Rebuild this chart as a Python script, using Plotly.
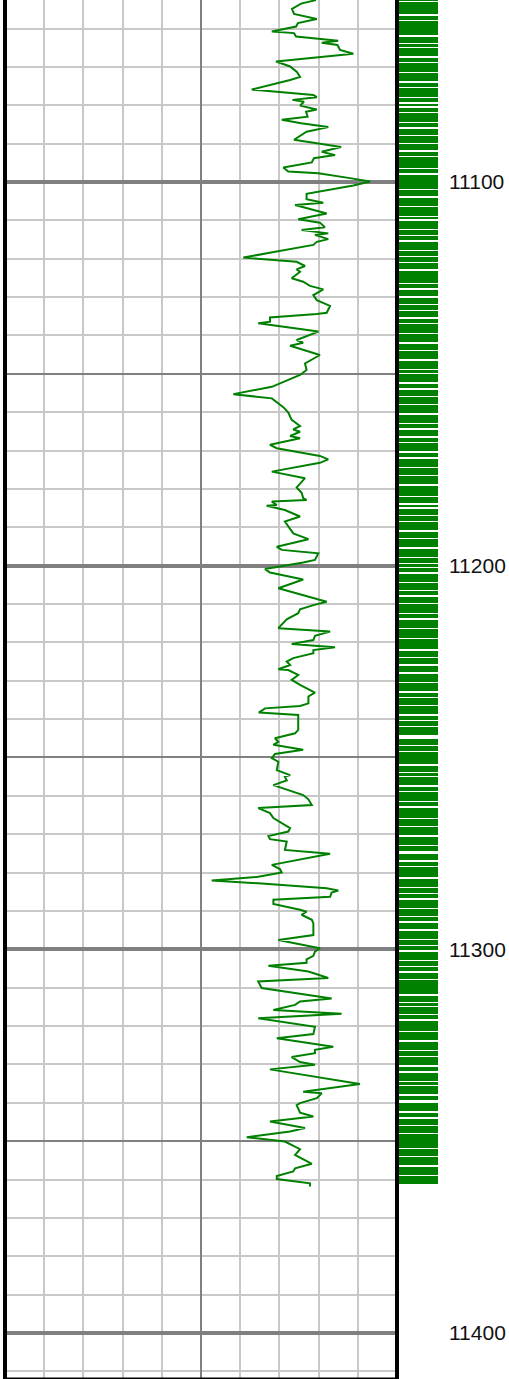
import plotly.graph_objects as go

# Gamma-ray curve vertices: measured depth (ft) and GR (API)
DEPTH = [
    11052.6, 11053.5, 11054.9, 11056.2, 11057.5, 11058.6, 11059.5, 11060.8, 11061.2, 11062.1,
    11063.2, 11063.7, 11064.3, 11065.6, 11066.6, 11068.6, 11069.9, 11071.3, 11072.6, 11073.4,
    11075.9, 11077.3, 11077.9, 11078.6, 11079.1, 11080.1, 11081.1, 11081.7, 11083.0, 11083.8,
    11084.7, 11085.7, 11086.9, 11089.0, 11090.9, 11092.1, 11093.0, 11093.8, 11094.9, 11096.2,
    11097.3, 11097.7, 11099.0, 11099.9, 11100.9, 11103.1, 11104.5, 11105.4, 11106.0, 11108.2,
    11109.7, 11110.6, 11111.8, 11112.5, 11113.4, 11113.8, 11114.9, 11115.6, 11116.4, 11119.7,
    11120.8, 11121.9, 11122.8, 11123.4, 11125.1, 11126.0, 11127.1, 11128.0, 11129.5, 11130.8,
    11132.3, 11134.1, 11134.4, 11135.3, 11136.4, 11136.8, 11139.0, 11141.2, 11141.9, 11142.7,
    11145.1, 11147.3, 11149.0, 11150.3, 11153.4, 11155.3, 11156.4, 11157.5, 11158.7, 11160.1,
    11162.0, 11163.6, 11164.5, 11165.1, 11166.2, 11166.8, 11168.5, 11169.4, 11171.4, 11172.3,
    11173.2, 11175.5, 11177.2, 11179.6, 11181.0, 11182.4, 11182.9, 11183.3, 11184.2, 11184.4,
    11185.5, 11187.2, 11188.5, 11191.6, 11193.1, 11195.1, 11195.9, 11196.8, 11198.5, 11199.2,
    11200.9, 11201.8, 11203.6, 11205.9, 11209.4, 11210.3, 11211.4, 11212.4, 11214.0, 11216.3,
    11217.2, 11218.3, 11219.4, 11220.4, 11221.3, 11222.0, 11222.8, 11224.1, 11225.0, 11225.9,
    11227.0, 11227.2, 11228.5, 11229.8, 11231.1, 11233.1, 11234.1, 11235.9, 11236.6, 11237.2,
    11238.3, 11238.9, 11242.8, 11243.7, 11245.0, 11245.9, 11246.7, 11248.0, 11249.1, 11250.2,
    11251.1, 11253.3, 11254.6, 11255.0, 11256.0, 11257.2, 11259.8, 11260.9, 11262.4, 11263.2,
    11264.5, 11265.8, 11267.0, 11268.4, 11269.3, 11270.5, 11271.3, 11271.9, 11274.1, 11275.1,
    11278.0, 11279.1, 11280.0, 11281.1, 11282.1, 11282.8, 11284.1, 11284.7, 11285.2, 11286.3,
    11287.1, 11288.2, 11289.7, 11290.2, 11291.0, 11292.3, 11293.2, 11296.3, 11297.6, 11299.7,
    11300.6, 11301.7, 11302.6, 11303.5, 11304.3, 11305.8, 11307.5, 11308.4, 11310.1, 11312.8,
    11313.6, 11314.5, 11315.8, 11316.8, 11318.0, 11320.2, 11322.1, 11323.2, 11325.4, 11326.2,
    11327.1, 11328.1, 11329.4, 11330.1, 11331.3, 11335.1, 11337.1, 11337.5, 11338.8, 11340.1,
    11340.6, 11342.6, 11343.6, 11344.9, 11346.6, 11347.5, 11349.0, 11350.1, 11352.1, 11353.6,
    11355.9, 11357.1, 11357.9, 11359.1, 11359.9, 11361.0, 11361.8,
]
GR = [
    119.0, 113.3, 109.8, 110.6, 119.3, 112.1, 111.4, 102.1, 110.6, 111.4,
    127.5, 121.2, 127.2, 128.2, 133.3, 103.7, 109.1, 111.7, 112.9, 109.1,
    94.4, 118.0, 119.3, 110.0, 114.4, 112.9, 119.3, 115.2, 115.8, 105.9,
    113.3, 123.7, 115.4, 110.6, 128.6, 121.2, 126.3, 118.2, 117.4, 106.5,
    108.4, 119.9, 132.0, 139.7, 133.3, 115.4, 115.4, 121.8, 111.0, 123.1,
    112.2, 120.5, 122.4, 113.5, 123.7, 118.6, 123.7, 119.3, 118.0, 91.2,
    111.6, 114.8, 111.6, 112.9, 109.7, 114.1, 116.7, 121.8, 118.0, 119.3,
    124.4, 123.1, 119.3, 101.4, 101.4, 96.9, 119.9, 111.6, 114.1, 109.1,
    120.5, 114.8, 115.4, 112.9, 102.1, 87.4, 102.1, 104.0, 106.5, 108.4,
    109.7, 112.9, 110.3, 112.9, 109.1, 112.9, 101.4, 104.0, 120.5, 123.7,
    120.5, 102.1, 114.8, 111.6, 113.5, 114.1, 115.4, 102.1, 104.0, 100.1,
    107.1, 112.9, 107.1, 110.3, 116.1, 104.0, 105.9, 119.9, 118.6, 114.1,
    99.5, 101.4, 114.1, 104.6, 123.1, 118.0, 112.9, 112.2, 107.8, 104.6,
    124.4, 118.6, 118.0, 109.7, 126.3, 118.0, 118.0, 110.3, 107.8, 109.1,
    104.6, 108.4, 112.2, 109.7, 112.9, 118.6, 116.1, 116.1, 112.9, 99.5,
    97.1, 112.2, 112.2, 111.0, 103.3, 104.6, 102.7, 114.1, 103.3, 102.1,
    104.6, 104.0, 109.1, 107.1, 107.8, 102.7, 114.1, 116.1, 117.4, 96.9,
    101.4, 102.7, 105.9, 109.1, 108.4, 100.8, 101.4, 107.8, 107.1, 124.4,
    102.1, 105.2, 105.9, 96.9, 79.1, 96.9, 123.1, 127.5, 125.0, 124.4,
    102.7, 102.7, 112.9, 115.4, 113.5, 117.4, 118.0, 118.0, 104.6, 120.5,
    118.6, 118.0, 115.4, 115.4, 100.8, 116.1, 123.7, 96.9, 98.2, 125.0,
    112.9, 111.0, 102.7, 128.8, 96.9, 118.6, 118.0, 104.0, 125.6, 118.6,
    118.6, 109.7, 112.9, 118.6, 101.4, 135.8, 114.1, 121.2, 119.3, 112.9,
    111.6, 112.9, 118.0, 101.4, 114.8, 109.1, 92.5, 107.1, 112.9, 111.0,
    117.4, 111.0, 110.3, 104.0, 104.0, 116.7, 116.7,
]

# Flag track: one value per half-foot sample from FLAG_TOP down (1 = flagged)
FLAG_TOP = 11050.0
FLAG_STEP = 0.5
FLAG_CODE = (
    "1101110111 1110110111 1111011101 0111101101 1110111101 "
    "1011110110 1011011110 1101110111 0111011011 1110110111 "
    "1111011101 1110111101 0111101101 1011110110 1101110111 "
    "1110110111 0111011011 1011011110 1111011101 1110111101 "
    "0111101101 1101110111 1011110110 1110110111 1011011110 "
    "1110111101 1111011101 0111011011 1101110111 1011110110 "
    "1011011110 1110110111 0111101101 1110111101 1111011101 "
    "1101110111 1011110110 1110111101 1011011110 0111011011 "
    "1111011101 0111101101 1110110111 1101110111 1011110110 "
    "0111011011 1110111101 1011011110 1110110111 0111101101 "
    "1011110110 1101110111 1111011101 0111011011 1110111101 "
    "1110110111 1011011110 1011110110 0111101101 1101110111 "
    "1111011101 1110111101 111"
)
FLAG_VALUE = [int(c) for c in FLAG_CODE if c in "01"]
FLAG_DEPTH = [FLAG_TOP + i * FLAG_STEP for i in range(len(FLAG_VALUE))]

DEPTH_TICKS = [11100, 11200, 11300, 11400]
HALF_TICKS = [11150, 11250, 11350]
DEPTH_RANGE = [11412.0, 11052.57]   # top of track at the upper edge
GR_RANGE = [0, 150]

W, H = 509, 1379
TRACK_L, TRACK_R, FLAG_R = 5, 397, 438

GREEN = "#008000"
LIGHT = "#c8c8c8"
DARK = "#808080"

fig = go.Figure()
fig.add_trace(go.Scatter(
    x=GR, y=DEPTH, mode="lines",
    line=dict(color=GREEN, width=2),
    xaxis="x", yaxis="y", showlegend=False, hoverinfo="skip",
))
# empty trace so the 50-ft grid axis gets drawn on the log track
fig.add_trace(go.Scatter(
    x=[], y=[], mode="lines", xaxis="x", yaxis="y3",
    showlegend=False, hoverinfo="skip",
))
fig.add_trace(go.Bar(
    x=FLAG_VALUE, y=FLAG_DEPTH, orientation="h",
    marker=dict(color=GREEN, line=dict(width=0)),
    xaxis="x2", yaxis="y2", showlegend=False, hoverinfo="skip",
))

fig.update_layout(
    width=W, height=H,
    margin=dict(l=0, r=0, t=0, b=0),
    paper_bgcolor="white", plot_bgcolor="white",
    bargap=0,
    xaxis=dict(
        domain=[TRACK_L / W, TRACK_R / W], range=GR_RANGE, anchor="y",
        tick0=0, dtick=75, showgrid=True, gridcolor=DARK, gridwidth=2,
        minor=dict(tick0=0, dtick=15, showgrid=True, gridcolor=LIGHT, gridwidth=2),
        showticklabels=False, ticks="", zeroline=False, showline=False,
    ),
    yaxis=dict(
        domain=[0, 1], range=DEPTH_RANGE, anchor="x",
        tickmode="array", tickvals=DEPTH_TICKS,
        showgrid=True, gridcolor=DARK, gridwidth=4,
        minor=dict(tick0=11000, dtick=10, showgrid=True, gridcolor=LIGHT, gridwidth=2),
        showticklabels=False, ticks="", zeroline=False, showline=False,
    ),
    yaxis3=dict(
        overlaying="y", anchor="x", range=DEPTH_RANGE,
        tickmode="array", tickvals=HALF_TICKS,
        showgrid=True, gridcolor=DARK, gridwidth=2,
        showticklabels=False, ticks="", zeroline=False, showline=False,
    ),
    xaxis2=dict(
        domain=[TRACK_R / W, FLAG_R / W], range=[0, 1], anchor="y2",
        showgrid=False, showticklabels=False, ticks="", zeroline=False, showline=False,
    ),
    yaxis2=dict(
        domain=[0, 1], range=DEPTH_RANGE, anchor="x2", side="right",
        tickmode="array", tickvals=DEPTH_TICKS,
        ticktext=[str(t) for t in DEPTH_TICKS],
        showgrid=False, zeroline=False, showline=False, ticks="",
        ticklabelstandoff=10,
        tickfont=dict(family="Liberation Sans, Arial, sans-serif", size=21, color="#111111"),
    ),
    shapes=[
        dict(type="line", xref="x domain", yref="y domain", x0=0, x1=0, y0=0, y1=1,
             line=dict(color="black", width=4), layer="above"),
        dict(type="line", xref="x domain", yref="y domain", x0=1, x1=1, y0=0, y1=1,
             line=dict(color="black", width=4), layer="above"),
        dict(type="line", xref="x domain", yref="y domain", x0=0, x1=1, y0=0, y1=0,
             line=dict(color="black", width=3), layer="above"),
    ],
)

fig.write_html("out.html")
